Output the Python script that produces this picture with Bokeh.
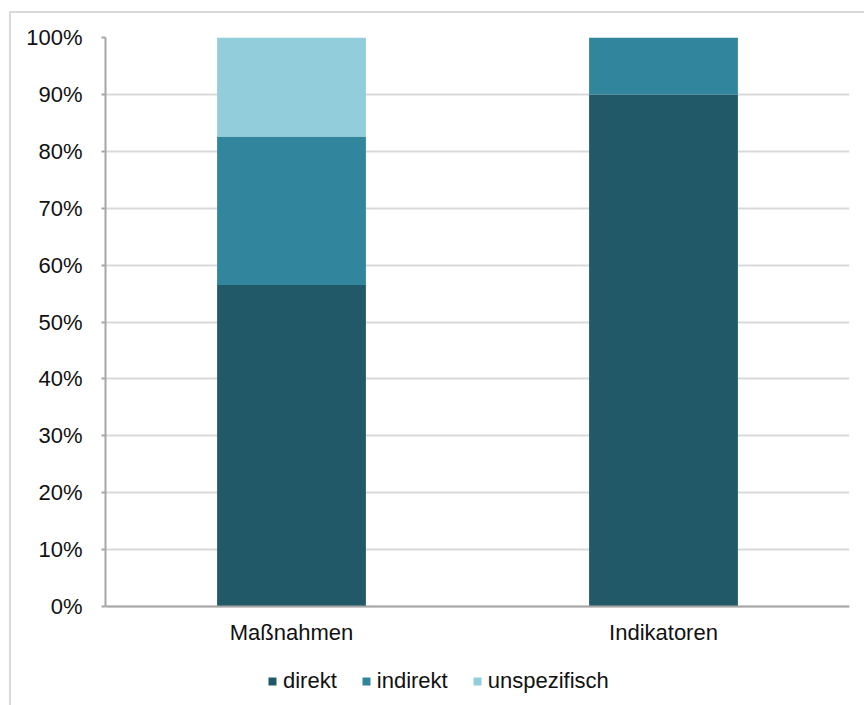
from bokeh.plotting import figure
from bokeh.models import FactorRange, Range1d, NumeralTickFormatter, FixedTicker, Legend, LegendItem
from bokeh.embed import file_html
from bokeh.resources import INLINE

# Shares per category (fractions of 1)
categories = ["Maßnahmen", "Indikatoren"]
direkt = [0.565, 0.90]
indirekt = [0.261, 0.10]
unspezifisch = [0.174, 0.0]

series_names = ["direkt", "indirekt", "unspezifisch"]
colors = ["#215968", "#31859C", "#92CDDC"]
y_ticks = [0.0, 0.1, 0.2, 0.3, 0.4, 0.5, 0.6, 0.7, 0.8, 0.9, 1.0]

FONT = "Liberation Sans"
TEXT_COLOR = "#111111"
AXIS_COLOR = "#A6A6A6"
GRID_COLOR = "#D9D9D9"

data = {"cat": categories, "direkt": direkt, "indirekt": indirekt, "unspezifisch": unspezifisch}

# The frame reaches down past 0 so the category labels and the legend sit inside it;
# the value axis itself only spans 0..1.
PLOT_H = 569
BELOW = 99
p = figure(
    x_range=FactorRange(*categories, range_padding=0),
    y_range=Range1d(-BELOW / PLOT_H, 1),
    frame_width=744, frame_height=PLOT_H + BELOW,
    output_backend="svg", toolbar_location=None,
    min_border_left=94, min_border_top=24, min_border_right=15, min_border_bottom=0,
    margin=(11, 0, 0, 9),
)
p.styles = {"border-top": "2px solid #D9D9D9", "border-left": "2px solid #D9D9D9"}
p.outline_line_color = None
p.background_fill_color = "white"
p.border_fill_color = "white"

renderers = p.vbar_stack(series_names, x="cat", width=0.4, source=data,
                         color=colors, line_color=None)

# Axes
p.yaxis.ticker = FixedTicker(ticks=y_ticks)
p.yaxis.formatter = NumeralTickFormatter(format="0%")
p.yaxis.bounds = (0, 1)
p.xaxis.fixed_location = 0
for ax in (p.xaxis, p.yaxis):
    ax.axis_line_color = AXIS_COLOR
    ax.axis_line_width = 2
    ax.major_label_text_font = FONT
    ax.major_label_text_font_size = "22px"
    ax.major_label_text_color = TEXT_COLOR
    ax.minor_tick_line_color = None
    ax.major_tick_line_color = AXIS_COLOR
    ax.major_tick_line_width = 2
    ax.major_tick_in = 0
p.yaxis.major_tick_out = 4
p.yaxis.major_label_standoff = 19
p.xaxis.major_tick_out = 0
p.xaxis.major_label_standoff = 13

p.xgrid.grid_line_color = None
p.ygrid.grid_line_color = GRID_COLOR
p.ygrid.grid_line_width = 2
p.ygrid.ticker = FixedTicker(ticks=y_ticks)

# Horizontal legend under the category labels
legend = Legend(
    items=[LegendItem(label=n, renderers=[r]) for n, r in zip(series_names, renderers)],
    orientation="horizontal", location=(162, 11),
    glyph_width=10, glyph_height=10, label_standoff=6, spacing=24,
    label_text_font=FONT, label_text_font_size="22px", label_text_color=TEXT_COLOR,
    border_line_color=None, background_fill_alpha=0, padding=0, margin=0,
)
p.add_layout(legend, "center")

open("out.html", "w").write(file_html(p, INLINE))
